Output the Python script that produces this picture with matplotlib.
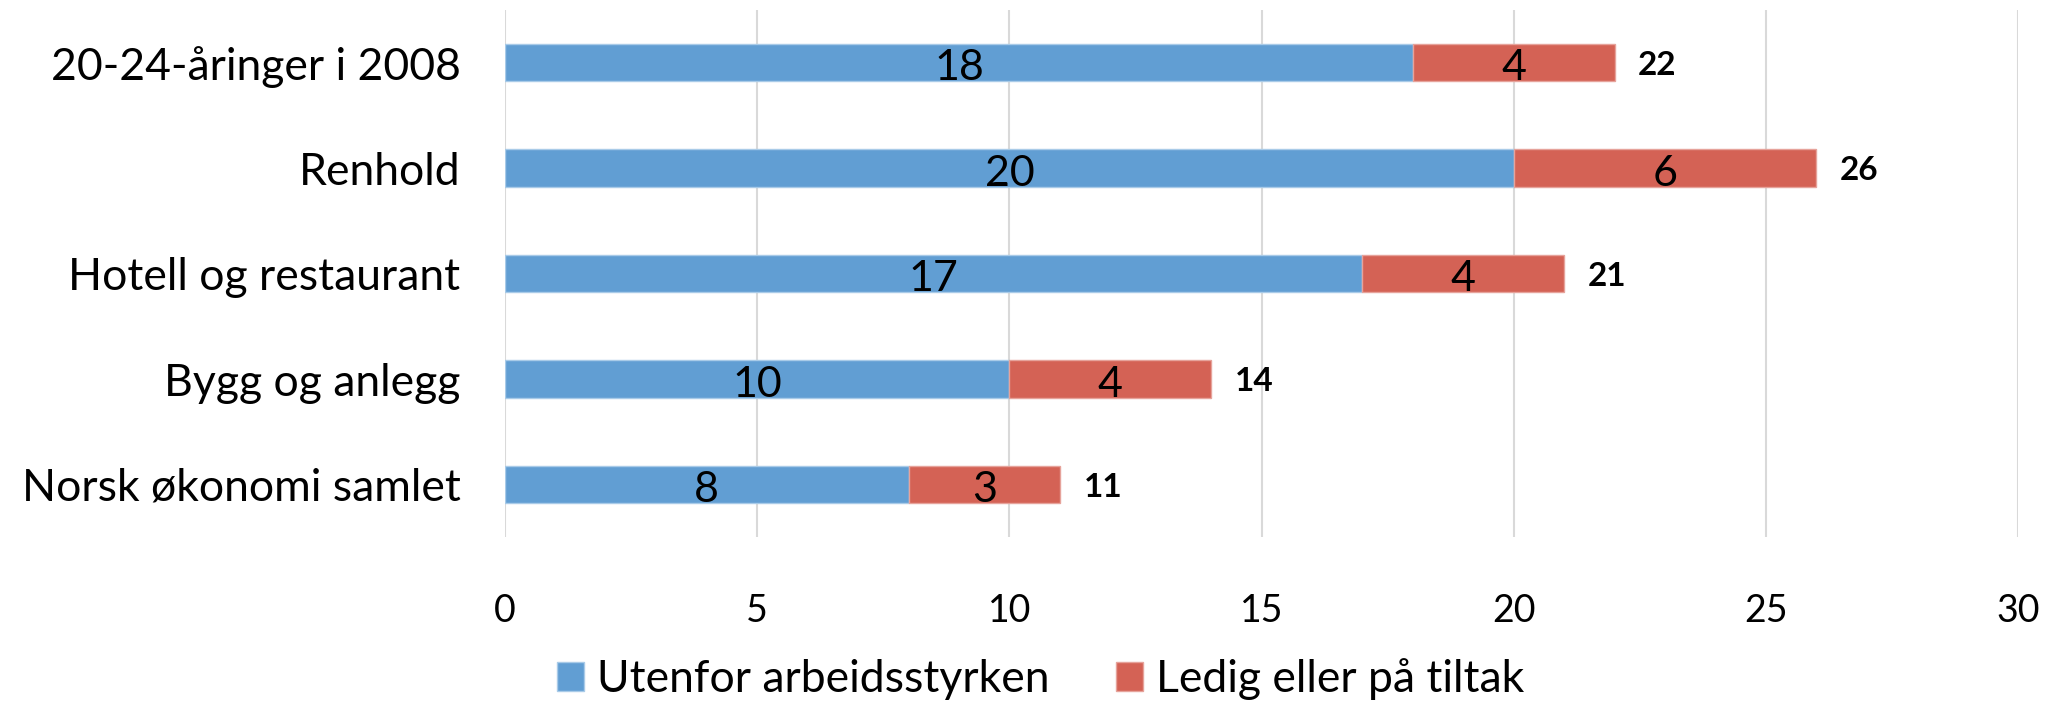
import numpy as np
import matplotlib.pyplot as plt

plt.rcParams['font.family'] = ['Lato', 'DejaVu Sans']

# Data
kategorier = ['20-24-åringer i 2008', 'Renhold', 'Hotell og restaurant',
              'Bygg og anlegg', 'Norsk økonomi samlet']
utenfor = [18, 20, 17, 10, 8]
ledig = [4, 6, 4, 4, 3]
serie_navn = ['Utenfor arbeidsstyrken', 'Ledig eller på tiltak']

blaa = '#619ED3'
roed = '#D46255'

fig = plt.figure(figsize=(20.53, 7.05), dpi=100)
ax = fig.add_axes([0.246, 0.238, 0.737, 0.748])

y = np.arange(len(kategorier))
h = 0.356
utenfor = np.array(utenfor)
ledig = np.array(ledig)
totalt = utenfor + ledig

b1 = ax.barh(y, utenfor, height=h, color=blaa, edgecolor='#A9CBE8', linewidth=1,
             label=serie_navn[0], zorder=3)
b2 = ax.barh(y, ledig, left=utenfor, height=h, color=roed, edgecolor='#E6A39B',
             linewidth=1, label=serie_navn[1], zorder=3)

# Verdier i segmentene
for i in range(len(kategorier)):
    ax.annotate(str(utenfor[i]), (utenfor[i] / 2, y[i]), xytext=(0, -4),
                textcoords='offset points', ha='center', va='center',
                fontsize=31, color='black', zorder=4)
    ax.annotate(str(ledig[i]), (utenfor[i] + ledig[i] / 2, y[i]), xytext=(0, -4),
                textcoords='offset points', ha='center', va='center',
                fontsize=31, color='black', zorder=4)
    ax.annotate(str(totalt[i]), (totalt[i], y[i]), xytext=(17, -2),
                textcoords='offset points', ha='left', va='center',
                fontsize=24, fontweight='bold', color='black', zorder=4)

ax.set_xlim(0, 30)
ax.set_ylim(-0.5, len(kategorier) - 0.5)
ax.invert_yaxis()
ax.set_yticks(y)
ax.set_yticklabels(kategorier, fontsize=32)
ax.set_xticks(np.arange(0, 31, 5))
ax.tick_params(axis='x', labelsize=27, length=0, pad=40)
ax.tick_params(axis='y', length=0, pad=32)

ax.grid(axis='x', color='#D9D9D9', linewidth=1.5, zorder=0)
for s in ax.spines.values():
    s.set_visible(False)

fig.legend(handles=[b1, b2], labels=serie_navn, loc='lower center',
           bbox_to_anchor=(0.507, -0.05), ncol=2, frameon=False, fontsize=32,
           handlelength=0.6, handleheight=0.6, handletextpad=0.3,
           columnspacing=1.5)

fig.savefig('out.png', dpi=100)
